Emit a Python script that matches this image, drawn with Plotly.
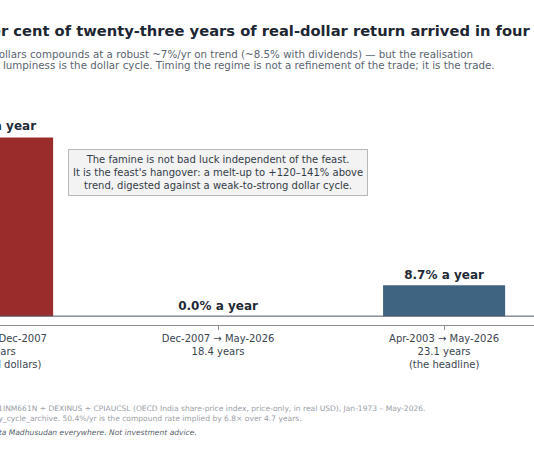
import plotly.graph_objects as go

# three regimes, real-dollar CAGR
windows = [
    "Apr-2003 → Dec-2007<br>4.7 years<br>(CAGR, real dollars)",
    "Dec-2007 → May-2026<br>18.4 years",
    "Apr-2003 → May-2026<br>23.1 years<br>(the headline)",
]
cagr = [50.4, 0.0, 8.7]
bar_colors = ["#9b2c2c", "#3f6482", "#3f6482"]
bar_labels = [f"<b>{v:.1f}% a year</b>" for v in cagr]

title = "Ninety per cent of twenty-three years of real-dollar return arrived in four years"
sub1 = "Indian equity in real dollars compounds at a robust ~7%/yr on trend (~8.5% with dividends) — but the realisation"
sub2 = "is lumpy, and the lumpiness is the dollar cycle. Timing the regime is not a refinement of the trade; it is the trade."
foot1 = "Source: FRED SPASTT01INM661N ÷ DEXINUS ÷ CPIAUCSL (OECD India share-price index, price-only, in real USD), Jan-1973 – May-2026."
foot2 = "Regime windows from liquidity_cycle_archive. 50.4%/yr is the compound rate implied by 6.8× over 4.7 years."
foot3 = "Please credit Amrita Madhusudan everywhere. Not investment advice."
note = ("The famine is not bad luck independent of the feast.<br>"
        "It is the feast's hangover: a melt-up to +120–141% above<br>"
        "trend, digested against a weak-to-strong dollar cycle.")

FONT = "DejaVu Sans"
W, H = 534, 462
TOP, BOT = 100, 325  # plot area in pixels
X0, CAT_PX = 0.035, 226  # left end of x range, pixels per category
XSPAN = W / CAT_PX


def py(y):
    # pixel row -> paper y
    return (BOT - y) / (BOT - TOP)


def px(x):
    return x / W


def cat_paper(i):
    # category index -> paper x (first one sits just off the left edge)
    return (i - X0) / XSPAN


fig = go.Figure()
fig.add_trace(go.Bar(
    x=windows, y=cagr,
    marker=dict(color=bar_colors, line=dict(width=0)),
    width=0.54,
    text=bar_labels, textposition="outside", cliponaxis=False,
    textfont=dict(family=FONT, size=12, color="#1f2a36"),
    hoverinfo="skip",
))

fig.add_hline(y=0, line=dict(color="#4d5560", width=1))

ann = []
ann.append(dict(text=f"<b>{title}</b>", x=px(-81), y=py(30), xanchor="left", yanchor="middle",
                font=dict(family=FONT, size=14.7, color="#1d2733")))
ann.append(dict(text=sub1, x=px(-116), y=py(54), xanchor="left", yanchor="middle",
                font=dict(family=FONT, size=10.3, color="#5a6470")))
ann.append(dict(text=sub2, x=px(-92), y=py(65), xanchor="left", yanchor="middle",
                font=dict(family=FONT, size=10.3, color="#5a6470")))
ann.append(dict(text=foot1, x=px(-89.8), y=py(408), xanchor="left", yanchor="middle",
                font=dict(family=FONT, size=7.56, color="#9aa0a6")))
ann.append(dict(text=foot2, x=px(-115.3), y=py(418), xanchor="left", yanchor="middle",
                font=dict(family=FONT, size=7.56, color="#9aa0a6")))
ann.append(dict(text=f"<i>{foot3}</i>", x=px(-71.9), y=py(432), xanchor="left", yanchor="middle",
                font=dict(family=FONT, size=7.56, color="#555e68")))
# first window sits off the left edge, so plotly drops its tick label and bar text
ann.append(dict(text=windows[0], x=cat_paper(0), y=py(331), xanchor="center", yanchor="top",
                align="center", font=dict(family=FONT, size=10, color="#3a4550")))
ann.append(dict(text=bar_labels[0], x=cat_paper(0), y=py(135), xanchor="center", yanchor="bottom",
                align="center", font=dict(family=FONT, size=12, color="#1f2a36")))
for a in ann:
    a.update(xref="paper", yref="paper", showarrow=False)
    a.setdefault("align", "left")

ann.append(dict(text=note, x=windows[1], y=40.4, xref="x", yref="y", showarrow=False,
                align="center", bgcolor="#f3f3f3", bordercolor="#b8b8b8", borderwidth=1,
                borderpad=4, font=dict(family=FONT, size=10, color="#333d48")))

fig.update_layout(
    width=W, height=H,
    margin=dict(l=0, r=0, t=TOP, b=H - BOT),
    paper_bgcolor="white", plot_bgcolor="white",
    showlegend=False,
    annotations=ann,
    font=dict(family=FONT),
)
fig.update_xaxes(
    range=[X0, X0 + XSPAN],
    showline=True, linecolor="#8a8f96", linewidth=1,
    ticks="outside", ticklen=4, tickcolor="#8a8f96",
    tickfont=dict(family=FONT, size=10, color="#3a4550"),
    showgrid=False,
)
fig.update_yaxes(range=[-2.5, 61], visible=False, showgrid=False, zeroline=False)

# page body has an 8px margin by default; drop it so the chart fills the window
fig.write_html("out.html", config={"displayModeBar": False},
               post_script="document.body.style.margin = '0';")
